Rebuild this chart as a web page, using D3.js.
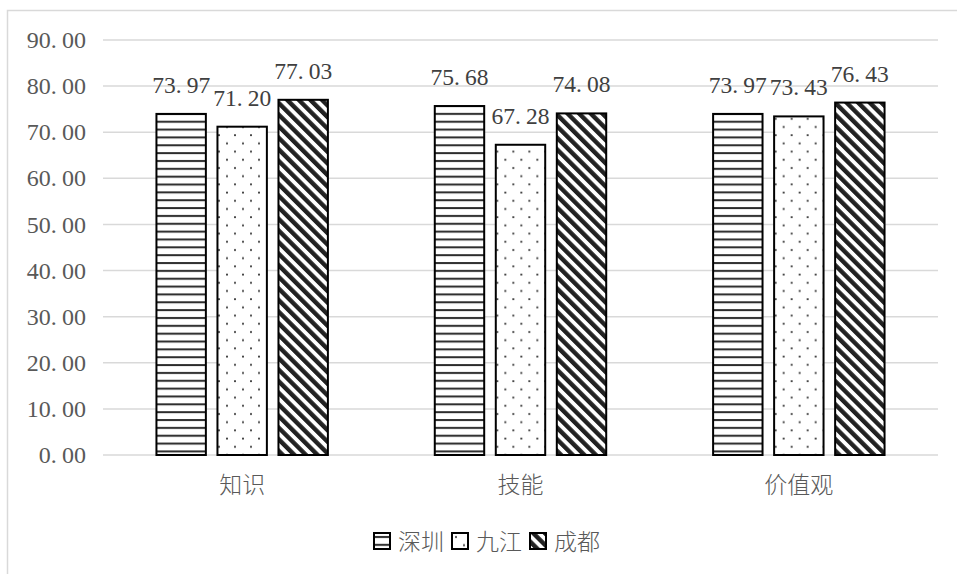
<!DOCTYPE html>
<html>
<head>
<meta charset="utf-8">
<script src="https://cdn.jsdelivr.net/npm/d3@7"></script>
<style>
  body { margin: 0; background: #fff; }
  svg { display: block; }
</style>
</head>
<body>
<svg id="chart" width="957" height="574"></svg>
<script>
// values
const categories = ['知识', '技能', '价值观'];
const series = ['深圳', '九江', '成都'];
const shenzhen = [73.97, 75.68, 73.97];
const jiujiang = [71.20, 67.28, 73.43];
const chengdu = [77.03, 74.08, 76.43];
const yTicks = [0, 10, 20, 30, 40, 50, 60, 70, 80, 90];

const values = [shenzhen, jiujiang, chengdu];
const fills = ['url(#hlines)', 'url(#dots)', 'url(#diag)'];

const plot = { left: 103, right: 938, top: 40, bottom: 455 };
const serif = '"Liberation Serif", "Times New Roman", "DejaVu Serif", serif';
const cjk = '"Noto Sans CJK SC", "Noto Sans", sans-serif';

const svg = d3.select('#chart');

// fill patterns
const defs = svg.append('defs');

const hl = defs.append('pattern')
  .attr('id', 'hlines')
  .attr('patternUnits', 'userSpaceOnUse')
  .attr('width', 8)
  .attr('height', 7.85);
hl.append('rect').attr('width', 8).attr('height', 7.85).attr('fill', '#fff');
hl.append('rect').attr('y', 3).attr('width', 8).attr('height', 2).attr('fill', '#2b2b2b');

const dt = defs.append('pattern')
  .attr('id', 'dots')
  .attr('patternUnits', 'userSpaceOnUse')
  .attr('width', 16)
  .attr('height', 16.4);
dt.append('rect').attr('width', 16).attr('height', 16.4).attr('fill', '#fff');
dt.append('circle').attr('cx', 4).attr('cy', 4).attr('r', 1).attr('fill', '#333');
dt.append('circle').attr('cx', 12).attr('cy', 12.2).attr('r', 1).attr('fill', '#333');

const dg = defs.append('pattern')
  .attr('id', 'diag')
  .attr('patternUnits', 'userSpaceOnUse')
  .attr('width', 8.2)
  .attr('height', 8.2)
  .attr('patternTransform', 'rotate(-45)');
dg.append('rect').attr('width', 8.2).attr('height', 8.2).attr('fill', '#fff');
dg.append('rect').attr('width', 4.4).attr('height', 8.2).attr('fill', '#222');

// chart frame (cut off on the right and bottom)
svg.append('rect')
  .attr('x', 7.5)
  .attr('y', 10.5)
  .attr('width', 1000)
  .attr('height', 700)
  .attr('fill', 'none')
  .attr('stroke', '#d9d9d9')
  .attr('stroke-width', 1.5);

const x0 = d3.scaleBand()
  .domain(categories)
  .range([plot.left, plot.right]);

const x1 = d3.scaleBand()
  .domain(series)
  .range([0, x0.bandwidth()])
  .paddingInner(0.19)
  .paddingOuter(0.876);

const y = d3.scaleLinear()
  .domain([0, 90])
  .range([plot.bottom, plot.top]);

// numbers are drawn with a wide full stop, like the original font
const writeNum = (sel, str) => {
  const parts = str.split('.');
  sel.append('tspan').text(parts[0] + '.');
  sel.append('tspan').attr('dx', '0.22em').text(parts[1]);
};

// grid lines and y labels
const yAxis = svg.append('g').attr('class', 'y-axis');
yAxis.selectAll('line')
  .data(yTicks)
  .enter()
  .append('line')
  .attr('x1', plot.left)
  .attr('x2', plot.right)
  .attr('y1', d => y(d))
  .attr('y2', d => y(d))
  .attr('stroke', '#d9d9d9')
  .attr('stroke-width', 1.5);

yAxis.selectAll('text')
  .data(yTicks)
  .enter()
  .append('text')
  .attr('x', 86)
  .attr('y', d => y(d))
  .attr('dy', '0.34em')
  .attr('text-anchor', 'end')
  .style('font-family', serif)
  .style('font-size', '24px')
  .style('fill', '#595959')
  .each(function (d) { writeNum(d3.select(this), d.toFixed(2)); });

// bars
const groups = svg.selectAll('g.cat')
  .data(categories)
  .enter()
  .append('g')
  .attr('class', 'cat')
  .attr('transform', d => `translate(${x0(d)},0)`);

const cells = groups.selectAll('g.bar')
  .data((c, ci) => series.map((s, si) => ({ s, si, v: values[si][ci] })))
  .enter()
  .append('g')
  .attr('class', 'bar');

cells.append('rect')
  .attr('x', d => x1(d.s))
  .attr('y', d => y(d.v))
  .attr('width', x1.bandwidth())
  .attr('height', d => y(0) - y(d.v))
  .attr('fill', d => fills[d.si])
  .attr('stroke', '#000')
  .attr('stroke-width', 2);

cells.append('text')
  .attr('x', d => x1(d.s) + x1.bandwidth() / 2)
  .attr('y', d => y(d.v) - 21)
  .attr('text-anchor', 'middle')
  .style('font-family', serif)
  .style('font-size', '23.5px')
  .style('fill', '#404040')
  .each(function (d) { writeNum(d3.select(this), d.v.toFixed(2)); });

// category labels
svg.selectAll('text.cat-label')
  .data(categories)
  .enter()
  .append('text')
  .attr('class', 'cat-label')
  .attr('x', d => x0(d) + x0.bandwidth() / 2)
  .attr('y', 492.5)
  .attr('text-anchor', 'middle')
  .style('font-family', cjk)
  .style('font-weight', 300)
  .style('font-size', '23px')
  .style('fill', '#595959')
  .text(d => d);

// legend
const legend = svg.append('g').attr('class', 'legend');
let cursor = 0;
series.forEach((s, i) => {
  const item = legend.append('g').attr('transform', `translate(${cursor},0)`);
  item.append('rect')
    .attr('x', 0)
    .attr('y', 0)
    .attr('width', 16)
    .attr('height', 16)
    .attr('fill', fills[i])
    .attr('stroke', '#000')
    .attr('stroke-width', 2);
  const t = item.append('text')
    .attr('x', 24)
    .attr('y', 8.5)
    .attr('dy', '0.38em')
    .style('font-family', cjk)
    .style('font-weight', 300)
    .style('font-size', '23px')
    .style('fill', '#595959')
    .text(s);
  cursor += 24 + t.node().getComputedTextLength() + 8;
});
const legendWidth = cursor - 8;
legend.attr('transform', `translate(${487 - legendWidth / 2},533)`);
</script>
</body>
</html>
